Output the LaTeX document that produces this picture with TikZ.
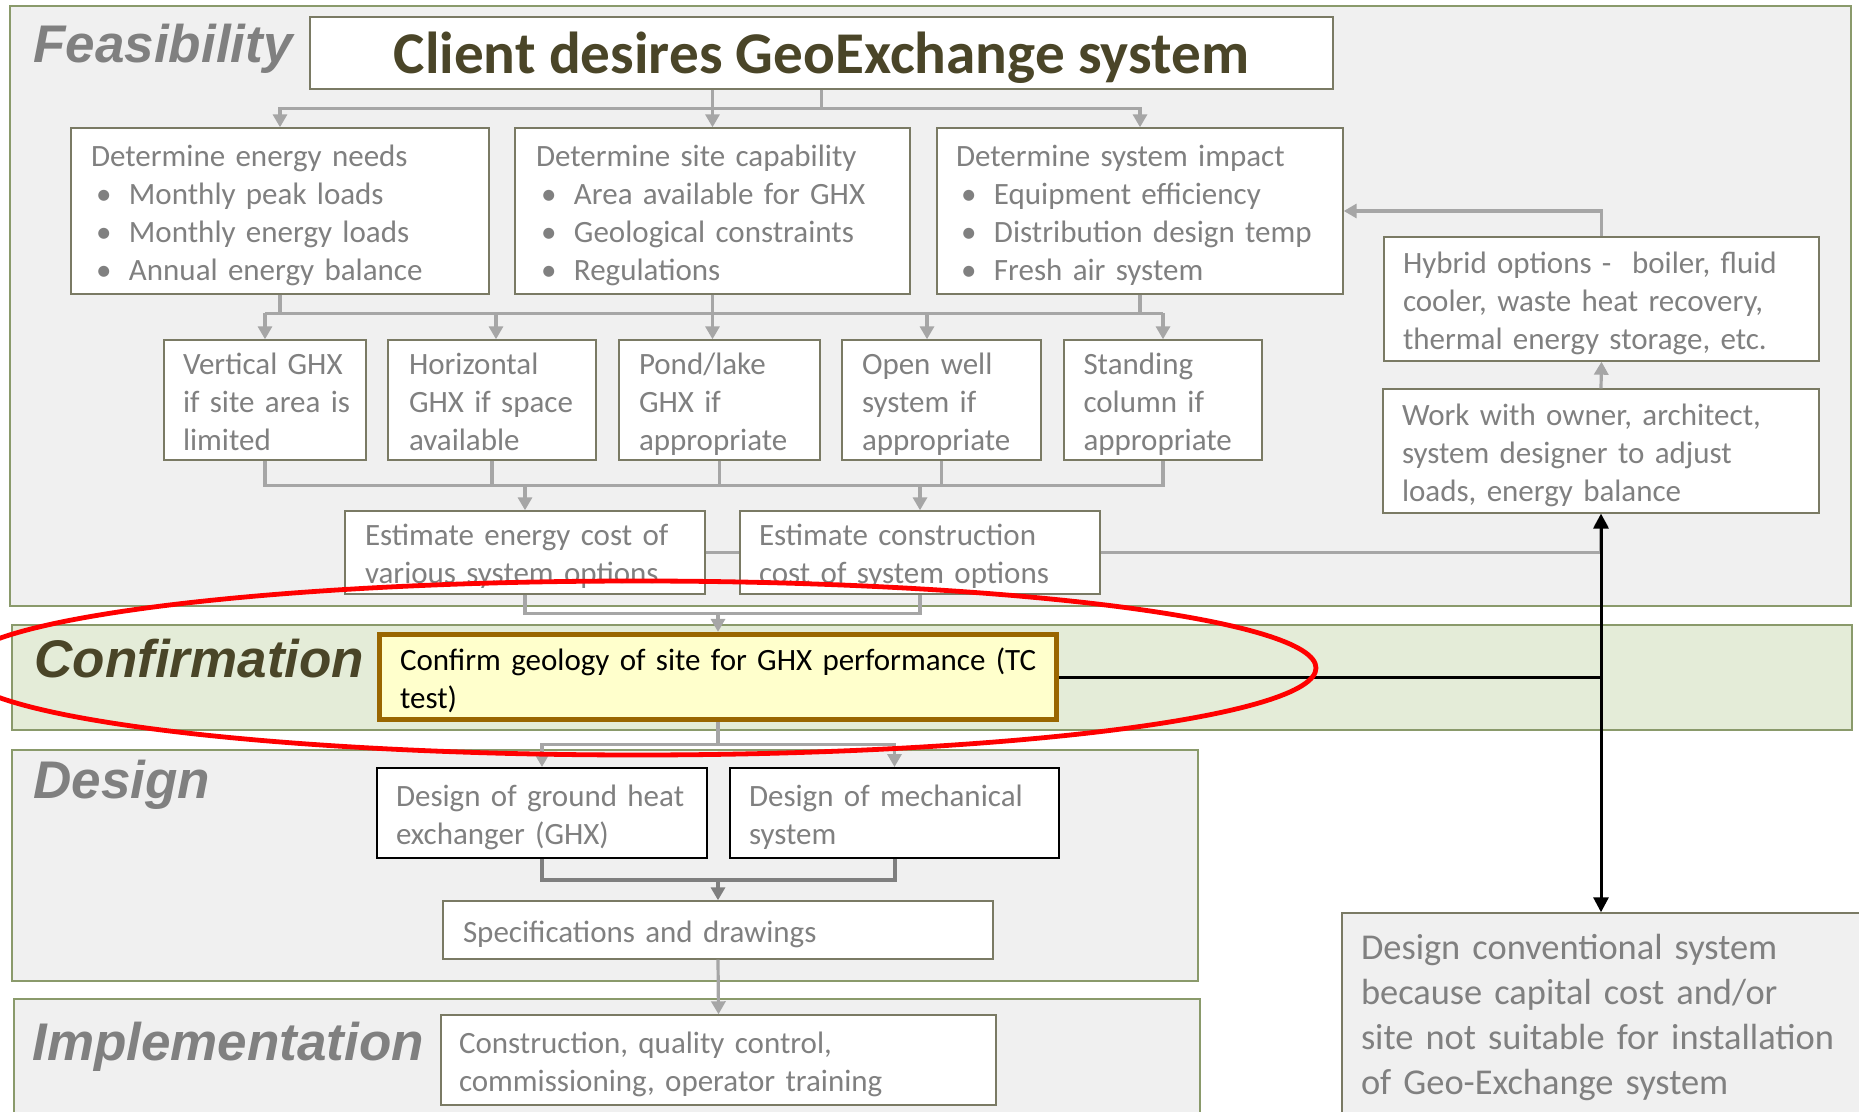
\documentclass[tikz,border=0pt]{standalone}
\usepackage{fontspec}
\setmainfont{Carlito}
\newfontfamily\labfont{Liberation Sans}
\usetikzlibrary{arrows.meta}
\definecolor{panelfill}{HTML}{F0F0F0}
\definecolor{panelline}{HTML}{8A9A6B}
\definecolor{conffill}{HTML}{E4ECD8}
\definecolor{boxline}{HTML}{7A7A64}
\definecolor{txtgray}{HTML}{808080}
\definecolor{olivetxt}{HTML}{4A4528}
\definecolor{cbrown}{HTML}{996600}
\definecolor{cyellow}{HTML}{FFFFCC}
\definecolor{conngray}{HTML}{A6A6A6}
\definecolor{conndark}{HTML}{7F7F7F}
\newcommand\boxlines[2][-2.4pt]{\raisebox{#1}[\height][\depth]{\begin{tabular}{@{}l@{}}#2\end{tabular}}}
\newcommand\bul{\makebox[19pt][l]{\hspace{2.5pt}\textbullet}}
\begin{document}
\begin{tikzpicture}[x=0.5pt,y=-0.5pt,
  panel/.style={draw=panelline,line width=0.8pt,fill=panelfill,inner sep=0pt},
  gbox/.style={draw=boxline,line width=0.7pt,fill=white,inner ysep=0pt,text=txtgray,
    font=\fontsize{15.5}{19}\selectfont,align=left},
  lab/.style={anchor=base west,inner sep=0pt,font=\labfont\bfseries\itshape\fontsize{26.5}{30}\selectfont},
  gline/.style={draw=conngray,line width=1.6pt},
  garr/.style={gline,-{Triangle[width=7pt,length=6.5pt]}},
  dline/.style={draw=conndark,line width=2pt},
  darr/.style={dline,-{Triangle[width=7pt,length=6.5pt]}},
  bline/.style={draw=black,line width=1.5pt},
  barr/.style={bline,{Triangle[width=7.5pt,length=7.5pt]}-{Triangle[width=7.5pt,length=7.5pt]}}
]
\useasboundingbox (0,0) rectangle (1859,1112);
\clip (0,0) rectangle (1859,1112);

% panels
\node[panel,minimum width=920.5pt,minimum height=300pt] (pfeas) at (930.5,306) {};
\node[panel,fill=conffill,minimum width=920pt,minimum height=52.5pt] (pconf) at (932,677.5) {};
\node[panel,minimum width=593pt,minimum height=115.5pt] (pdes) at (605,865.5) {};
\node[panel,minimum width=593pt,minimum height=65.5pt] (pimpl) at (607,1064.5) {};

% panel labels
\node[lab,text=txtgray] (lfeas) at (33,63) {Feasibility};
\node[lab,text=olivetxt] (lconf) at (34,677) {Confirmation};
\node[lab,text=txtgray] (ldes) at (33,798) {Design};
\node[lab,text=txtgray] (limpl) at (32,1060) {Implementation};

% title
\node[draw=boxline,line width=0.7pt,fill=white,minimum width=511.5pt,minimum height=36pt,
  inner sep=0pt,text=olivetxt,font=\fontsize{29.6}{35}\bfseries\selectfont,text depth=0pt]
  (title) at (821.5,53) {Client desires GeoExchange system};

% first row
\node[gbox,minimum width=209pt,minimum height=83pt,inner xsep=10pt,text width=189pt] (needs) at (280,211)
  {\boxlines{Determine energy needs\\\bul Monthly peak loads\\\bul Monthly energy loads\\\bul Annual energy balance}};
\node[gbox,minimum width=197.5pt,minimum height=83pt,inner xsep=10.5pt,text width=176.5pt] (site) at (712.5,211)
  {\boxlines{Determine site capability\\\bul Area available for GHX\\\bul Geological constraints\\\bul Regulations}};
\node[gbox,minimum width=203pt,minimum height=83pt,inner xsep=9.5pt,text width=184pt] (impact) at (1140,211)
  {\boxlines{Determine system impact\\\bul Equipment efficiency\\\bul Distribution design temp\\\bul Fresh air system}};
\node[gbox,minimum width=217.5pt,minimum height=62pt,inner xsep=9.5pt,text width=198.5pt] (hybrid) at (1601.5,299)
  {\boxlines{Hybrid options -\ \ boiler, fluid\\cooler, waste heat recovery,\\thermal energy storage, etc.}};
\node[gbox,minimum width=218pt,minimum height=62pt,inner xsep=9.5pt,text width=199pt] (work) at (1601,451)
  {\boxlines{Work with owner, architect,\\system designer to adjust\\loads, energy balance}};

% second row
\node[gbox,minimum width=101pt,minimum height=60pt,inner xsep=9.5pt,text width=82pt] (vert) at (265,400)
  {\boxlines{Vertical GHX\\if site area is\\limited}};
\node[gbox,minimum width=104pt,minimum height=60pt,inner xsep=10.5pt,text width=83pt] (horiz) at (492,400)
  {\boxlines{Horizontal\\GHX if space\\available}};
\node[gbox,minimum width=100.5pt,minimum height=60pt,inner xsep=10pt,text width=80.5pt] (pond) at (719.5,400)
  {\boxlines{Pond/lake\\GHX if\\appropriate}};
\node[gbox,minimum width=99.5pt,minimum height=60pt,inner xsep=10pt,text width=79.5pt] (openwell) at (941.5,400)
  {\boxlines{Open well\\system if\\appropriate}};
\node[gbox,minimum width=99pt,minimum height=60pt,inner xsep=9.75pt,text width=79.5pt] (standing) at (1163,400)
  {\boxlines{Standing\\column if\\appropriate}};

% estimates
\node[gbox,minimum width=180pt,minimum height=41.5pt,inner xsep=10pt,text width=160pt] (ecost) at (525,552.5)
  {\boxlines{Estimate energy cost of\\various system options}};
\node[gbox,minimum width=180pt,minimum height=41.5pt,inner xsep=9.5pt,text width=161pt] (ccost) at (920,552.5)
  {\boxlines{Estimate construction\\cost of system options}};

% confirmation
\node[gbox,draw=cbrown,line width=2.6pt,fill=cyellow,text=black,minimum width=338.5pt,minimum height=42.5pt,
  inner xsep=10.25pt,text width=318pt] (confirm) at (718,677)
  {\boxlines{Confirm geology of site for GHX performance (TC\\test)}};

% design
\node[gbox,draw=black,line width=1pt,minimum width=165pt,minimum height=45pt,inner xsep=9.5pt,text width=146pt] (dghx) at (542,813)
  {\boxlines{Design of ground heat\\exchanger (GHX)}};
\node[gbox,draw=black,line width=1pt,minimum width=164.5pt,minimum height=45pt,inner xsep=9.5pt,text width=145.5pt] (dmech) at (894.5,813)
  {\boxlines{Design of mechanical\\system}};
\node[gbox,minimum width=275pt,minimum height=29pt,inner xsep=10pt,text width=255pt] (spec) at (718,930)
  {\boxlines{Specifications and drawings}};

% implementation
\node[gbox,minimum width=277.5pt,minimum height=45pt,inner xsep=9pt,text width=259.5pt] (constr) at (718.5,1060)
  {\boxlines{Construction, quality control,\\commissioning, operator training}};

% conventional
\node[gbox,fill=panelfill,font=\fontsize{18.2}{22.5}\selectfont,minimum width=269pt,minimum height=105pt,
  inner xsep=9.5pt,text width=250pt] (conv) at (1611,1018)
  {\boxlines[0pt]{Design conventional system\\because capital cost and/or\\site not suitable for installation\\of Geo-Exchange system}};

% connectors: title -> first row
\draw[gline] (title.south) -- ++(0,19);
\draw[garr] (title.south) ++(0,19) -| (needs.north);
\draw[garr] (title.south) ++(0,19) -| (impact.north);
\draw[garr] (site.north |- title.south) -- (site.north);

% first row -> second row
\draw[gline] (needs.south) -- ++(0,20);
\draw[gline] (impact.south) -- ++(0,20);
\draw[gline] ([yshift=13pt]vert.north) -- ([yshift=13pt]standing.north);
\draw[garr] ([yshift=13pt]vert.north) -- (vert.north);
\draw[garr] ([xshift=2pt,yshift=13pt]horiz.north) -- ([xshift=2pt]horiz.north);
\draw[garr] (site.south) -- (site.south |- pond.north);
\draw[garr] ([xshift=-7.25pt,yshift=13pt]openwell.north) -- ([xshift=-7.25pt]openwell.north);
\draw[garr] ([yshift=13pt]standing.north) -- (standing.north);

% second row -> estimates
\draw[gline] (vert.south) -- ++(0,25) -| (standing.south);
\draw[gline] (horiz.south) -- ++(0,25);
\draw[gline] (pond.south) -- ++(0,25);
\draw[gline] (openwell.south) -- ++(0,25);
\draw[garr] ([yshift=13pt]ecost.north) -- (ecost.north);
\draw[garr] ([yshift=13pt]ccost.north) -- (ccost.north);

% estimates
\draw[gline] (ecost.east) -- (ccost.west);
\draw[garr] (ccost.east) -| (work.south);
\draw[gline] (ecost.south) -- ++(0,19) -| (ccost.south);
\draw[garr] ([yshift=9.5pt]confirm.north) -- (confirm.north);

% hybrid loop
\draw[garr] (work.north) -- (hybrid.south);
\draw[garr] (hybrid.north) |- (impact.east);

% confirmation -> design
\draw[gline] (confirm.south) -- ++(0,22);
\draw[garr] (confirm.south) ++(0,22) -| (dghx.north);
\draw[garr] (confirm.south) ++(0,22) -| (dmech.north);

% design -> spec -> construction
\draw[dline] (dghx.south) -- ++(0,21) -| (dmech.south);
\draw[darr] ([yshift=11pt]spec.north) -- (spec.north);
\draw[garr] (spec.south) -- (constr.north);

% black connectors
\draw[bline] (confirm.east) -- (confirm.east -| work.south);
\draw[barr] (work.south) -- (work.south |- conv.north);

% red ellipse
\draw[red,line width=2.4pt] (637.5,668) ellipse [x radius=339.25pt, y radius=43.5pt];
\end{tikzpicture}
\end{document}
